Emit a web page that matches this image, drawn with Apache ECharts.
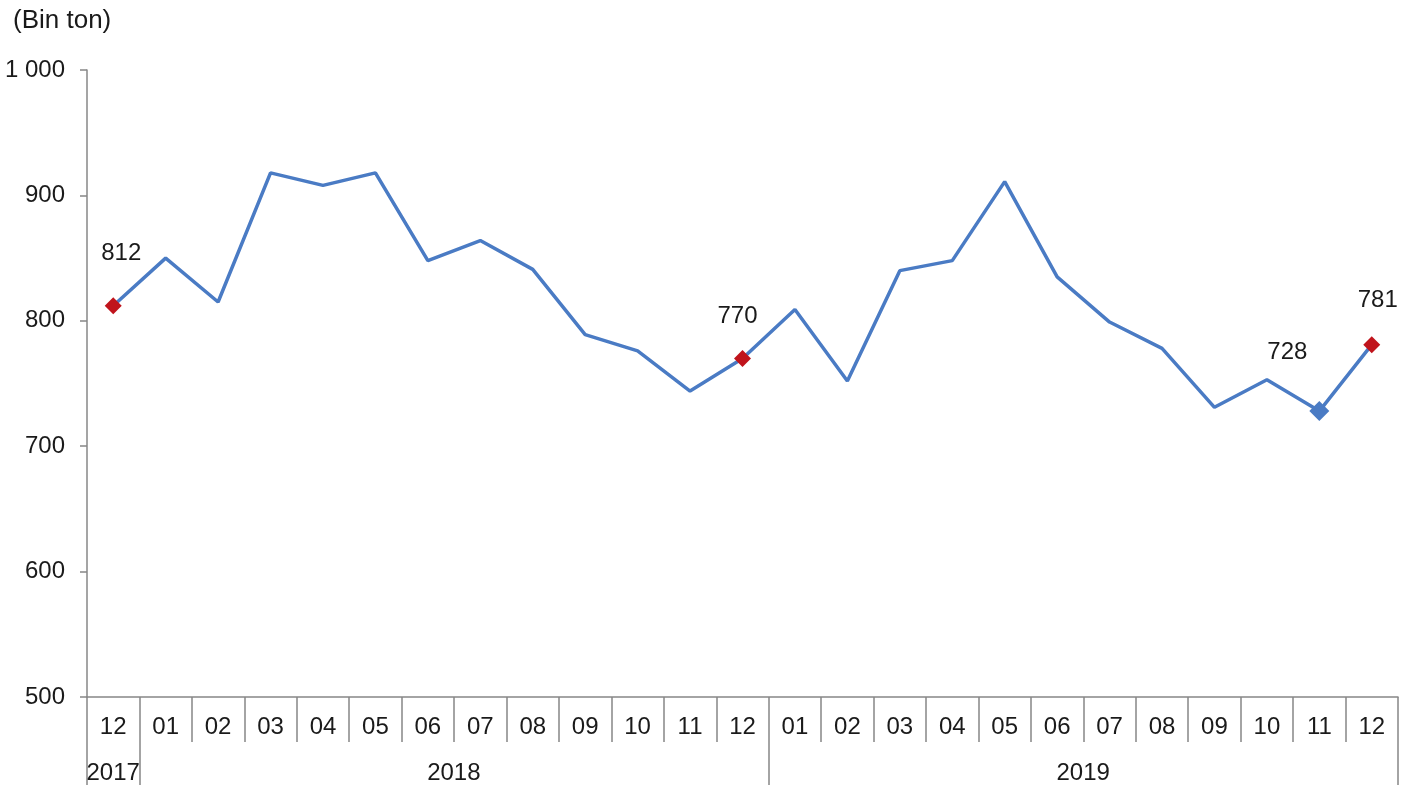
<!DOCTYPE html>
<html style="height:100%">
<head>
    <meta charset="utf-8">
    <title>Bin ton</title>
    <script src="https://cdn.jsdelivr.net/npm/echarts@6/dist/echarts.min.js"></script>
</head>
<body style="height:100%;margin:0">
    <div id="main" style="width:1415px;height:790px;"></div>
    <script type="text/javascript">
        var months = ['12', '01', '02', '03', '04', '05', '06', '07', '08', '09', '10', '11', '12',
            '01', '02', '03', '04', '05', '06', '07', '08', '09', '10', '11', '12'];
        var values = [812, 850, 815, 918, 908, 918, 848, 864, 841, 789, 776, 744, 770,
            809, 752, 840, 848, 911, 835, 799, 778, 731, 753, 728, 781];
        // year labels: which category they sit on, and where the year block starts
        var yearLabels = { 0: '2017', 6: '2018', 18: '2019' };
        var yearStarts = [0, 1, 13];
        var yTicks = [500, 600, 700, 800, 900, 1000];

        var labelled = { 0: 'red', 12: 'red', 23: 'blue', 24: 'red' };
        var labelOffsets = { 0: [8, -27], 12: [-5, -17], 23: [-32, -32], 24: [6, -19] };

        var font = 'Liberation Sans, Arial, sans-serif';
        var fs = 24;
        var textColor = '#1a1a1a';
        var axisColor = '#878787';

        var seriesData = values.map(function (v, i) {
            var item = { value: v };
            if (labelled[i]) {
                var isRed = labelled[i] === 'red';
                item.symbol = 'diamond';
                item.symbolSize = isRed ? 17 : 20;
                item.itemStyle = { color: isRed ? '#c0141c' : '#4a7bc4' };
                item.label = {
                    show: true,
                    position: 'top',
                    offset: labelOffsets[i],
                    color: textColor,
                    fontFamily: font,
                    fontSize: fs
                };
            } else {
                item.symbol = 'none';
            }
            return item;
        });

        var myChart = echarts.init(document.getElementById('main'));
        var option = {
            backgroundColor: '#fff',
            animation: false,
            title: {
                text: '(Bin ton)',
                left: 8,
                top: 3,
                textStyle: { color: textColor, fontFamily: font, fontSize: 26, fontWeight: 'normal' }
            },
            grid: { left: 87, right: 17, top: 70, bottom: 93 },
            xAxis: [{
                type: 'category',
                data: months,
                boundaryGap: true,
                axisLine: { lineStyle: { color: axisColor, width: 1.5 } },
                axisTick: { show: true, interval: 0, length: 45, lineStyle: { color: axisColor, width: 1.5 } },
                axisLabel: { interval: 0, margin: 18, color: textColor, fontFamily: font, fontSize: fs }
            }, {
                type: 'category',
                data: months,
                position: 'bottom',
                boundaryGap: true,
                axisLine: { show: false },
                axisTick: {
                    show: true,
                    length: 88,
                    interval: function (index) { return yearStarts.indexOf(index) >= 0; },
                    lineStyle: { color: axisColor, width: 1.5 }
                },
                axisLabel: {
                    interval: 0,
                    margin: 64,
                    color: textColor,
                    fontFamily: font,
                    fontSize: fs,
                    formatter: function (val, index) {
                        if (!yearLabels[index]) return '';
                        return index === 0 ? yearLabels[index] : '{s|' + yearLabels[index] + '}';
                    },
                    rich: {
                        s: { padding: [0, 0, 0, 52], color: textColor, fontFamily: font, fontSize: fs }
                    }
                }
            }],
            yAxis: {
                type: 'value',
                min: yTicks[0],
                max: yTicks[yTicks.length - 1],
                interval: 100,
                axisLine: { show: true, lineStyle: { color: axisColor, width: 1.5 } },
                axisTick: { show: true, length: 7, lineStyle: { color: axisColor, width: 1.5 } },
                splitLine: { show: false },
                axisLabel: {
                    margin: 22,
                    color: textColor,
                    fontFamily: font,
                    fontSize: fs,
                    formatter: function (v) { return v >= 1000 ? '1 000' : String(v); }
                }
            },
            series: [{
                type: 'line',
                data: seriesData,
                lineStyle: { color: '#4a7bc4', width: 3.5 },
                itemStyle: { color: '#4a7bc4' },
                z: 3
            }]
        };
        myChart.setOption(option);
    </script>
</body>
</html>
